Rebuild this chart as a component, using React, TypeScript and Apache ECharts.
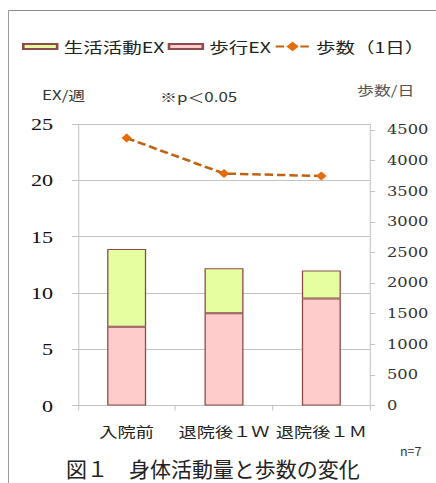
import React, { useEffect, useRef } from "react";
import * as echarts from "echarts";

// Weekly EX by category (stacked) and average daily steps
const categories = ["入院前", "退院後１Ｗ", "退院後１Ｍ"];
const walkingEx = [7.0, 8.2, 9.5];
const lifeActivityEx = [6.9, 4.0, 2.5];
const dailySteps = [4370, 3790, 3750];
const leftTicks = [0, 5, 10, 15, 20, 25];
const rightTicks = [0, 500, 1000, 1500, 2000, 2500, 3000, 3500, 4000, 4500];

// The chart body is drawn in a narrower box and widened horizontally.
const OUT_W = 436;
const OUT_H = 483;
const IN_W = 335;
const SX = OUT_W / IN_W;
const px = (x: number) => x / SX;

const GRID_COLOR = "#c3c3c3";
const BAR_BORDER = "#8e4b4b";
const JP = "'Noto Sans CJK JP', 'Noto Sans', sans-serif";

export default function App() {
  const ref = useRef<HTMLDivElement>(null);

  useEffect(() => {
    if (!ref.current) return;
    const chart = echarts.init(ref.current, null, { renderer: "svg" });
    chart.setOption({
      animation: false,
      backgroundColor: "#ffffff",
      grid: {
        left: px(78),
        right: IN_W - px(370),
        top: 124,
        bottom: OUT_H - 405.5,
      },
      legend: {
        data: [
          { name: "生活活動EX", icon: "path://M0 0H50V10H0Z" },
          { name: "歩行EX", icon: "path://M0 0H50V10H0Z" },
          { name: "歩数（1日）" },
        ],
        left: px(22),
        top: 39,
        width: 330,
        padding: 0,
        itemWidth: 26,
        itemHeight: 12,
        itemGap: 2.5,
        textStyle: { fontFamily: JP, fontSize: 15, color: "#222" },
      },
      xAxis: {
        type: "category",
        data: categories,
        axisLine: { lineStyle: { color: GRID_COLOR, width: 1 } },
        axisTick: { show: true, length: 5, lineStyle: { color: GRID_COLOR, width: 0.8 } },
        axisLabel: { interval: 0, margin: 18, fontFamily: JP, fontSize: 14, color: "#222" },
        splitLine: { show: false },
      },
      yAxis: [
        {
          type: "value",
          min: 0,
          max: 25,
          interval: 5,
          axisLine: { show: true, lineStyle: { color: GRID_COLOR, width: 0.8 } },
          axisTick: { show: true, length: px(6), lineStyle: { color: GRID_COLOR } },
          axisLabel: {
            margin: px(25),
            fontFamily: "'Liberation Serif', serif",
            fontSize: 17,
            color: "#111",
            customValues: leftTicks,
          },
          splitLine: { show: true, lineStyle: { color: GRID_COLOR, width: 1 } },
        },
        {
          type: "value",
          min: 0,
          max: 4600,
          interval: 500,
          position: "right",
          axisLine: { show: true, lineStyle: { color: GRID_COLOR, width: 0.8 } },
          axisTick: {
            show: true,
            length: px(5),
            lineStyle: { color: GRID_COLOR },
            customValues: rightTicks,
          },
          axisLabel: {
            margin: px(17),
            fontFamily: "'DejaVu Serif', serif",
            fontSize: 12.5,
            color: "#333",
            customValues: rightTicks,
            formatter: (v: number) => String(v),
          },
          splitLine: { show: false },
        },
      ],
      series: [
        {
          name: "歩行EX",
          type: "bar",
          stack: "ex",
          barWidth: px(39),
          data: walkingEx,
          itemStyle: { color: "#ffcccc", borderColor: BAR_BORDER, borderWidth: 1 },
        },
        {
          name: "生活活動EX",
          type: "bar",
          stack: "ex",
          barWidth: px(39),
          data: lifeActivityEx,
          itemStyle: { color: "#e5fea0", borderColor: BAR_BORDER, borderWidth: 1 },
        },
        {
          name: "歩数（1日）",
          type: "line",
          yAxisIndex: 1,
          data: dailySteps,
          symbol: "diamond",
          symbolSize: [8, 9],
          lineStyle: { color: "#c0620e", width: 2.5, type: [6.5, 3] },
          itemStyle: { color: "#e46c0a" },
        },
      ],
      graphic: [
        // outer frame (top and left edges)
        {
          type: "line",
          shape: { x1: px(8.5), y1: 10.5, x2: IN_W, y2: 10.5 },
          style: { stroke: "#8c8c8c", lineWidth: 1 },
        },
        {
          type: "line",
          shape: { x1: px(8.5), y1: 10.5, x2: px(8.5), y2: OUT_H },
          style: { stroke: "#8c8c8c", lineWidth: 1 / SX },
        },
        {
          type: "text",
          x: px(42),
          y: 94,
          style: { text: "EX/週", font: `13px ${JP}`, fill: "#333", verticalAlign: "middle" },
        },
        {
          type: "text",
          x: px(160),
          y: 96,
          style: { text: "※p＜0.05", font: `13px ${JP}`, fill: "#333", verticalAlign: "middle" },
        },
        {
          type: "text",
          x: px(357),
          y: 89,
          style: { text: "歩数/日", font: `13px ${JP}`, fill: "#555", verticalAlign: "middle" },
        },
        {
          type: "text",
          x: px(400),
          y: 451,
          scaleX: 1 / SX,
          style: { text: "n=7", font: `12.5px ${JP}`, fill: "#333", verticalAlign: "middle" },
        },
        {
          type: "text",
          x: px(66),
          y: 467.5,
          scaleX: 1 / SX,
          style: {
            text: "図１　身体活動量と歩数の変化",
            font: `21px ${JP}`,
            fill: "#222",
            verticalAlign: "middle",
          },
        },
      ],
    });
    return () => chart.dispose();
  }, []);

  return (
    <div
      style={{
        position: "fixed",
        left: 0,
        top: 0,
        width: OUT_W,
        height: OUT_H,
        overflow: "hidden",
        background: "#fff",
      }}
    >
      <div
        ref={ref}
        style={{
          width: IN_W,
          height: OUT_H,
          transform: `scaleX(${SX})`,
          transformOrigin: "0 0",
        }}
      />
    </div>
  );
}
